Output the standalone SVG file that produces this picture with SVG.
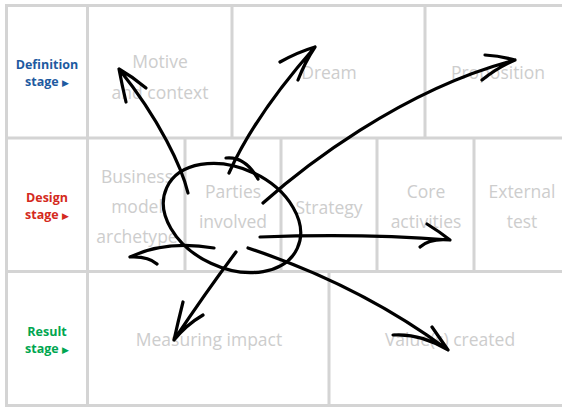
<svg xmlns="http://www.w3.org/2000/svg" width="562" height="407" viewBox="0 0 562 407">
<style>
.g{stroke:#d4d4d4;stroke-width:3;fill:none}
.t{font-family:"Open Sans","DejaVu Sans",sans-serif;font-size:17.5px;fill:#cdcdcd;text-anchor:middle}
.s{font-family:"Open Sans","DejaVu Sans",sans-serif;font-size:12.5px;font-weight:bold;text-anchor:middle}
.tri{font-family:"DejaVu Sans",sans-serif;font-size:9px}
.a{stroke:#000;stroke-width:3.2;fill:none;stroke-linecap:round;stroke-linejoin:round}
</style>
<rect width="562" height="407" fill="#fff"/>
<g id="grid">
<path class="g" d="M5,5.5H562M5,138H562M5,271.5H562M5,405.5H562M6.5,4V407M87.5,4V407M232,5.5V138M425,5.5V138M185,138V271.5M281,138V271.5M377,138V271.5M474,138V271.5M329,271.5V405.5"/>
</g>
<g id="stage-labels">
<text class="s" fill="#1e5aa0" x="47" y="69">Definition</text>
<text class="s" fill="#1e5aa0" x="47" y="86">stage <tspan class="tri">▶</tspan></text>
<text class="s" fill="#d42a20" x="47" y="202">Design</text>
<text class="s" fill="#d42a20" x="47" y="219">stage <tspan class="tri">▶</tspan></text>
<text class="s" fill="#00a650" x="47" y="336">Result</text>
<text class="s" fill="#00a650" x="47" y="353">stage <tspan class="tri">▶</tspan></text>
</g>
<g id="motive"><text class="t" x="160" y="68">Motive</text><text class="t" x="160" y="99">and context</text></g>
<g id="dream"><text class="t" x="329" y="79">Dream</text></g>
<g id="proposition"><text class="t" x="498" y="79">Proposition</text></g>
<g id="business-model"><text class="t" x="137" y="183">Business</text><text class="t" x="137" y="213">model</text><text class="t" x="137" y="243">archetype</text></g>
<g id="parties"><text class="t" x="233" y="198">Parties</text><text class="t" x="233" y="228">involved</text></g>
<g id="strategy"><text class="t" x="329" y="214">Strategy</text></g>
<g id="core"><text class="t" x="426" y="198">Core</text><text class="t" x="426" y="228">activities</text></g>
<g id="external"><text class="t" x="522" y="198">External</text><text class="t" x="522" y="228">test</text></g>
<g id="measuring"><text class="t" x="209" y="346">Measuring impact</text></g>
<g id="value"><text class="t" x="450" y="346">Value(s) created</text></g>
<g id="connectors">
<ellipse class="a" cx="232" cy="218" rx="72" ry="50" transform="rotate(25 232 218)"/>
<path class="a" d="M226,158 Q245,156 258,179"/>
<path class="a" d="M188,193 C182,168 160,120 119,69 M126,102 Q122,85 119,69 Q133,77 146,88"/>
<path class="a" d="M229,173 Q255,115 315,47 M280,62 Q298,52 315,47 Q305,62 298,80"/>
<path class="a" d="M263,203 C300,170 400,90 515,60 M485,55 Q500,56 515,60 Q497,68 482,80"/>
<path class="a" d="M260,237 Q360,233 450,240 M427,224 Q440,232 450,240 M420,247 Q430,238 450,240"/>
<path class="a" d="M214,248 C190,244 160,243 130,257 Q148,256 157,264"/>
<path class="a" d="M236,252 Q206,292 174,340 M183,302 Q178,322 174,340 Q186,325 203,315"/>
<path class="a" d="M248,248 Q360,285 448,350 M432,327 L448,350 Q420,333 393,335"/>
</g>
</svg>
